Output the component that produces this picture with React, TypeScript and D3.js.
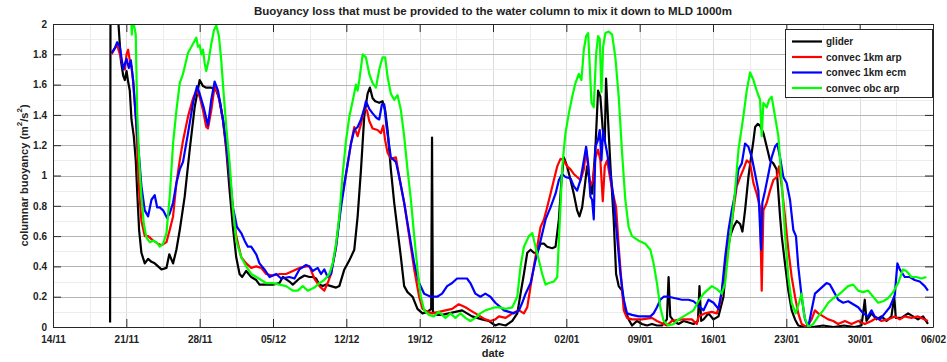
import React, { useEffect, useRef } from 'react';
import * as d3 from 'd3';

// days counted from 14/11, values in m^2/s^2
type Pt = [number, number];

const xTickLabels = ['14/11', '21/11', '28/11', '05/12', '12/12', '19/12', '26/12', '02/01', '09/01', '16/01', '23/01', '30/01', '06/02'];
const yTickValues = [0, 0.2, 0.4, 0.6, 0.8, 1, 1.2, 1.4, 1.6, 1.8, 2];
const legendNames = ['glider', 'convec 1km arp', 'convec 1km ecm', 'convec obc arp'];

const glider: Pt[] = [
  [5.45, 0.03], [5.5, 2.8], [6.1, 2.4], [6.25, 2.0], [6.48, 1.76], [6.7, 1.66], [6.86, 1.63], [7.02, 1.69], [7.17, 1.62], [7.33, 1.56],
  [7.49, 1.37], [7.71, 1.26], [7.9, 1.1], [8.06, 0.86], [8.22, 0.64], [8.44, 0.49], [8.76, 0.42], [9.08, 0.45], [9.4, 0.43], [9.71, 0.42],
  [10.03, 0.4], [10.35, 0.38], [10.83, 0.39], [11.1, 0.48], [11.46, 0.42], [11.78, 0.51], [12.1, 0.64], [12.57, 0.86], [13.05, 1.17], [13.52, 1.45],
  [14.0, 1.63], [14.32, 1.59], [14.63, 1.58], [15.11, 1.58], [15.59, 1.56], [15.9, 1.5], [16.22, 1.37], [16.54, 1.17], [16.86, 0.9], [17.17, 0.66],
  [17.49, 0.46], [17.81, 0.35], [18.06, 0.33], [18.44, 0.37], [18.92, 0.33], [19.4, 0.31], [19.71, 0.28], [20.35, 0.28], [20.98, 0.28], [21.62, 0.29],
  [21.94, 0.33], [22.57, 0.3], [22.89, 0.28], [23.52, 0.32], [24.0, 0.34], [24.48, 0.33], [24.79, 0.33], [25.11, 0.32], [25.43, 0.28], [25.75, 0.27],
  [26.06, 0.28], [26.54, 0.27], [27.02, 0.26], [27.33, 0.27], [27.81, 0.38], [28.29, 0.44], [28.76, 0.51], [29.08, 0.73], [29.4, 1.04], [29.71, 1.39],
  [30.03, 1.54], [30.25, 1.58], [30.51, 1.51], [30.76, 1.49], [31.14, 1.48], [31.46, 1.49], [31.71, 1.43], [31.94, 1.3], [32.25, 1.04], [32.57, 0.82],
  [32.89, 0.64], [33.21, 0.46], [33.52, 0.27], [33.84, 0.23], [34.32, 0.2], [34.79, 0.12], [35.27, 0.09], [35.75, 0.1], [36.1, 0.12], [36.18, 1.25],
  [36.26, 0.1], [36.67, 0.08], [37.14, 0.08], [37.78, 0.09], [38.41, 0.1], [39.05, 0.11], [39.52, 0.09], [40.0, 0.07], [40.48, 0.06], [40.95, 0.05],
  [41.59, 0.04], [42.22, 0.01], [42.57, 0.02], [43.21, 0.01], [43.84, 0.04], [44.32, 0.09], [44.63, 0.22], [44.95, 0.35], [45.27, 0.49], [45.59, 0.51],
  [45.9, 0.49], [46.22, 0.49], [46.54, 0.55], [46.86, 0.55], [47.17, 0.53], [47.65, 0.52], [47.97, 0.53], [48.29, 0.71], [48.54, 0.97], [48.76, 1.12],
  [49.08, 1.06], [49.4, 0.97], [49.71, 0.88], [50.03, 0.77], [50.25, 0.73], [50.51, 0.79], [50.76, 0.93], [50.98, 1.06], [51.21, 0.97], [51.46, 0.88],
  [51.78, 1.19], [52.03, 1.56], [52.25, 1.52], [52.48, 1.3], [52.67, 1.23], [52.79, 1.64], [52.98, 1.37], [53.21, 1.06], [53.52, 0.71], [53.75, 0.35],
  [54.0, 0.27], [54.32, 0.24], [54.63, 0.11], [54.95, 0.05], [55.27, 0.01], [55.75, 0.04], [56.22, 0.02], [56.7, 0.01], [57.17, 0.02], [57.65, 0.01],
  [58.13, 0.01], [58.6, 0.05], [58.76, 0.33], [58.92, 0.07], [59.24, 0.04], [59.71, 0.02], [60.19, 0.04], [60.67, 0.03], [61.14, 0.02], [61.56, 0.04],
  [61.71, 0.27], [61.87, 0.04], [62.1, 0.05], [62.57, 0.09], [63.05, 0.05], [63.52, 0.07], [64.0, 0.2], [64.32, 0.46], [64.63, 0.6], [64.95, 0.66],
  [65.27, 0.7], [65.59, 0.68], [65.81, 0.63], [66.06, 0.77], [66.38, 0.99], [66.63, 1.12], [66.86, 1.23], [67.02, 1.32], [67.27, 1.34], [67.49, 1.33],
  [67.81, 1.28], [68.13, 1.19], [68.44, 1.1], [68.76, 1.08], [69.08, 1.04], [69.4, 0.73], [69.56, 0.6], [69.87, 0.42], [70.19, 0.24], [70.51, 0.11],
  [70.83, 0.05], [71.14, 0.01], [71.78, 0], [72.5, 0], [73.5, 0.01], [74.5, 0], [75.5, 0.01], [76.5, 0], [77.17, 0.01], [77.33, 0.09],
  [77.49, 0.18], [77.65, 0.04], [78.13, 0.09], [78.6, 0.05], [79.08, 0.07], [79.56, 0.04], [80.03, 0.07], [80.3, 0.2], [80.45, 0.06], [80.98, 0.06],
  [81.62, 0.09], [82.1, 0.07], [82.57, 0.05], [83.05, 0.07], [83.52, 0.02],
];

const arp1km: Pt[] = [
  [5.6, 1.8], [5.9, 1.84], [6.13, 1.86], [6.38, 1.8], [6.7, 1.72], [6.86, 1.7], [7.02, 1.8], [7.17, 1.83], [7.33, 1.76], [7.49, 1.72],
  [7.65, 1.62], [7.9, 1.39], [8.06, 1.15], [8.22, 0.9], [8.44, 0.7], [8.76, 0.6], [9.08, 0.6], [9.56, 0.57], [10.03, 0.55], [10.35, 0.54],
  [10.83, 0.56], [11.14, 0.64], [11.46, 0.73], [11.78, 0.95], [12.1, 1.1], [12.41, 1.23], [12.89, 1.39], [13.37, 1.51], [13.68, 1.56], [14.0, 1.52],
  [14.32, 1.43], [14.63, 1.32], [14.79, 1.31], [15.11, 1.43], [15.43, 1.59], [15.75, 1.54], [16.22, 1.37], [16.54, 1.19], [16.86, 0.99], [17.17, 0.77],
  [17.49, 0.6], [17.97, 0.46], [18.44, 0.42], [18.92, 0.39], [19.4, 0.4], [19.87, 0.39], [20.35, 0.35], [20.98, 0.34], [21.62, 0.35], [22.25, 0.35],
  [22.89, 0.37], [23.52, 0.39], [24.16, 0.4], [24.48, 0.4], [24.95, 0.32], [25.43, 0.27], [25.9, 0.24], [26.22, 0.29], [26.54, 0.35], [27.02, 0.53],
  [27.49, 0.82], [27.97, 1.01], [28.44, 1.21], [28.76, 1.32], [29.08, 1.26], [29.4, 1.34], [29.71, 1.44], [29.97, 1.43], [30.19, 1.36], [30.51, 1.31],
  [30.98, 1.3], [31.3, 1.28], [31.52, 1.33], [31.71, 1.23], [31.94, 1.15], [32.25, 1.11], [32.73, 1.12], [33.05, 0.99], [33.52, 0.82], [34.0, 0.6],
  [34.48, 0.38], [34.95, 0.2], [35.27, 0.12], [35.75, 0.1], [36.22, 0.09], [36.83, 0.1], [37.46, 0.11], [38.1, 0.12], [38.73, 0.15], [39.37, 0.13],
  [39.84, 0.11], [40.32, 0.09], [40.79, 0.07], [41.27, 0.05], [41.75, 0.04], [42.22, 0.05], [42.57, 0.07], [43.21, 0.06], [43.84, 0.09], [44.48, 0.11],
  [44.95, 0.09], [45.27, 0.13], [45.59, 0.27], [45.9, 0.4], [46.22, 0.53], [46.54, 0.66], [46.86, 0.71], [47.17, 0.79], [47.49, 0.88], [47.81, 0.97],
  [48.13, 1.06], [48.44, 1.11], [48.76, 1.1], [49.08, 1.06], [49.4, 1.04], [49.71, 1.01], [50.03, 0.99], [50.35, 0.97], [50.67, 1.04], [50.89, 1.17],
  [51.08, 1.06], [51.3, 0.93], [51.56, 0.97], [51.78, 1.12], [52.03, 1.17], [52.25, 1.1], [52.48, 0.83], [52.67, 1.06], [52.89, 1.1], [53.21, 0.97],
  [53.52, 0.86], [53.75, 0.79], [54.0, 0.53], [54.25, 0.31], [54.48, 0.11], [54.79, 0.06], [55.27, 0.05], [56.22, 0.05], [57.17, 0.06], [57.65, 0.04],
  [58.6, 0.01], [59.08, 0.04], [60.03, 0.05], [60.98, 0.05], [61.46, 0.02], [61.62, 0.07], [62.25, 0.09], [62.89, 0.1], [63.37, 0.09], [63.68, 0.16],
  [64.0, 0.31], [64.32, 0.51], [64.63, 0.6], [64.95, 0.77], [65.27, 0.93], [65.59, 0.99], [65.9, 1.04], [66.22, 1.1], [66.54, 1.08], [66.86, 0.95],
  [67.17, 0.88], [67.49, 0.79], [67.65, 0.24], [67.81, 0.77], [68.13, 0.82], [68.44, 0.9], [68.76, 0.97], [69.08, 0.99], [69.3, 1.06], [69.56, 0.93],
  [69.87, 0.73], [70.19, 0.51], [70.51, 0.33], [70.83, 0.2], [71.14, 0.09], [71.46, 0.02], [71.94, 0], [72.41, 0.05], [72.73, 0.11], [73.05, 0.09],
  [73.52, 0.07], [74.0, 0.05], [74.48, 0.04], [74.95, 0.02], [75.59, 0.04], [76.22, 0.02], [76.86, 0.04], [77.49, 0.02], [78.13, 0.04], [78.6, 0.06],
  [79.08, 0.04], [79.71, 0.05], [80.35, 0.07], [80.83, 0.05], [81.3, 0.07], [81.94, 0.06], [82.57, 0.07], [83.21, 0.05], [83.52, 0.04],
];

const ecm1km: Pt[] = [
  [5.59, 1.81], [5.9, 1.84], [6.13, 1.88], [6.38, 1.85], [6.7, 1.7], [7.02, 1.77], [7.24, 1.71], [7.43, 1.76], [7.65, 1.63], [7.9, 1.39],
  [8.19, 1.15], [8.44, 0.93], [8.76, 0.77], [9.08, 0.73], [9.4, 0.84], [9.71, 0.87], [9.94, 0.79], [10.19, 0.79], [10.51, 0.77], [10.89, 0.72],
  [11.14, 0.75], [11.46, 0.82], [11.78, 0.95], [12.1, 1.04], [12.41, 1.09], [12.89, 1.28], [13.37, 1.48], [13.75, 1.59], [14.0, 1.54], [14.38, 1.45],
  [14.79, 1.33], [15.11, 1.5], [15.43, 1.62], [15.75, 1.56], [16.22, 1.37], [16.54, 1.21], [16.86, 1.01], [17.17, 0.79], [17.56, 0.66], [17.97, 0.62],
  [18.29, 0.57], [18.6, 0.53], [18.92, 0.53], [19.4, 0.48], [19.71, 0.42], [20.19, 0.38], [20.67, 0.33], [21.3, 0.35], [21.78, 0.32], [22.57, 0.33],
  [23.05, 0.32], [23.52, 0.38], [24.16, 0.41], [24.48, 0.4], [24.79, 0.37], [25.27, 0.39], [25.59, 0.35], [25.9, 0.38], [26.22, 0.33], [26.54, 0.35],
  [27.02, 0.53], [27.49, 0.79], [27.97, 1.01], [28.44, 1.21], [28.76, 1.3], [29.08, 1.32], [29.4, 1.37], [29.71, 1.44], [29.87, 1.49], [30.19, 1.44],
  [30.51, 1.41], [30.89, 1.38], [31.14, 1.37], [31.4, 1.47], [31.62, 1.47], [31.84, 1.32], [32.25, 1.12], [32.73, 1.09], [33.05, 0.99], [33.52, 0.82],
  [34.0, 0.62], [34.48, 0.42], [34.95, 0.29], [35.43, 0.22], [36.06, 0.2], [36.67, 0.2], [37.14, 0.22], [37.62, 0.27], [38.1, 0.29], [38.57, 0.32],
  [39.05, 0.32], [39.52, 0.32], [39.84, 0.29], [40.32, 0.22], [40.79, 0.2], [41.27, 0.22], [41.75, 0.2], [42.22, 0.16], [42.57, 0.14], [43.05, 0.11],
  [43.52, 0.1], [43.99, 0.09], [44.48, 0.11], [44.79, 0.16], [45.11, 0.22], [45.59, 0.29], [46.06, 0.44], [46.54, 0.57], [47.02, 0.71], [47.49, 0.79],
  [47.97, 0.88], [48.29, 0.97], [48.6, 1.01], [48.92, 0.99], [49.4, 0.98], [49.71, 0.93], [50.03, 0.9], [50.35, 0.97], [50.67, 1.1], [50.89, 1.19],
  [51.08, 1.08], [51.3, 0.86], [51.46, 0.84], [51.62, 0.71], [51.78, 1.19], [52.0, 1.23], [52.19, 1.3], [52.35, 1.1], [52.51, 1.3], [52.67, 1.23],
  [52.89, 1.15], [53.21, 1.01], [53.52, 0.84], [53.84, 0.6], [54.16, 0.35], [54.48, 0.18], [54.79, 0.09], [55.27, 0.08], [55.9, 0.07], [56.54, 0.07],
  [57.02, 0.07], [57.33, 0.09], [57.65, 0.13], [57.97, 0.18], [58.29, 0.2], [58.76, 0.2], [59.4, 0.19], [60.03, 0.18], [60.67, 0.18], [61.14, 0.17],
  [61.62, 0.14], [62.1, 0.11], [62.57, 0.18], [63.05, 0.16], [63.52, 0.12], [63.84, 0.24], [64.16, 0.46], [64.48, 0.64], [64.79, 0.77], [65.11, 0.88],
  [65.43, 1.04], [65.75, 1.08], [66.06, 1.21], [66.38, 1.19], [66.7, 1.12], [67.02, 1.01], [67.33, 0.9], [67.59, 0.51], [67.71, 0.82], [67.97, 0.9],
  [68.29, 1.01], [68.6, 1.12], [68.92, 1.19], [69.14, 1.21], [69.4, 1.12], [69.71, 0.99], [70.03, 0.95], [70.35, 0.84], [70.67, 0.64], [70.92, 0.6],
  [71.14, 0.4], [71.46, 0.2], [71.78, 0.05], [72.1, 0], [72.41, 0.11], [72.73, 0.22], [73.05, 0.24], [73.52, 0.27], [73.84, 0.29], [74.16, 0.28],
  [74.48, 0.24], [74.95, 0.18], [75.43, 0.16], [75.9, 0.17], [76.38, 0.15], [76.86, 0.13], [77.33, 0.09], [77.81, 0.07], [78.13, 0.11], [78.44, 0.07],
  [78.92, 0.05], [79.4, 0.09], [79.87, 0.13], [80.35, 0.21], [80.6, 0.42], [80.83, 0.38], [81.3, 0.33], [81.78, 0.33], [82.25, 0.31], [82.73, 0.3],
  [83.21, 0.27], [83.52, 0.24],
];

const obcArp: Pt[] = [
  [5.6, 2.6], [7.3, 2.3], [7.45, 2.1], [7.52, 1.93], [7.6, 2.05], [7.71, 2.0], [7.9, 1.93], [8.03, 1.43], [8.22, 1.1], [8.44, 0.86],
  [8.67, 0.68], [8.92, 0.59], [9.24, 0.56], [9.56, 0.57], [9.87, 0.56], [10.19, 0.53], [10.51, 0.55], [10.83, 0.62], [11.14, 0.86], [11.46, 1.21],
  [11.78, 1.43], [12.1, 1.61], [12.41, 1.67], [12.89, 1.81], [13.37, 1.87], [13.68, 1.91], [13.84, 1.85], [14.0, 1.86], [14.16, 1.8], [14.32, 1.83],
  [14.48, 1.74], [14.63, 1.69], [14.86, 1.76], [15.11, 1.87], [15.37, 1.96], [15.59, 1.99], [15.84, 1.92], [16.06, 1.76], [16.29, 1.54], [16.54, 1.32],
  [16.86, 1.08], [17.17, 0.79], [17.49, 0.57], [17.97, 0.46], [18.44, 0.4], [18.92, 0.35], [19.4, 0.33], [19.87, 0.31], [20.35, 0.29], [20.98, 0.29],
  [21.62, 0.28], [22.25, 0.27], [22.89, 0.24], [23.37, 0.24], [23.84, 0.27], [24.32, 0.24], [24.95, 0.26], [25.43, 0.29], [25.9, 0.31], [26.38, 0.35],
  [26.7, 0.42], [27.02, 0.55], [27.33, 0.73], [27.65, 1.01], [27.97, 1.23], [28.29, 1.39], [28.6, 1.49], [28.92, 1.6], [29.08, 1.56], [29.24, 1.63],
  [29.56, 1.8], [29.87, 1.78], [30.19, 1.67], [30.51, 1.61], [30.83, 1.58], [31.14, 1.7], [31.46, 1.78], [31.71, 1.78], [31.94, 1.65], [32.25, 1.54],
  [32.57, 1.5], [32.89, 1.53], [33.21, 1.43], [33.52, 1.26], [33.84, 1.04], [34.16, 0.84], [34.48, 0.6], [34.79, 0.38], [35.11, 0.2], [35.43, 0.11],
  [35.9, 0.08], [36.35, 0.07], [36.83, 0.1], [37.46, 0.06], [37.94, 0.09], [38.41, 0.06], [38.89, 0.09], [39.37, 0.06], [39.84, 0.04], [40.32, 0.06],
  [40.79, 0.09], [41.27, 0.11], [41.75, 0.12], [42.22, 0.13], [42.57, 0.13], [43.21, 0.12], [43.84, 0.13], [44.32, 0.2], [44.63, 0.4], [44.95, 0.53],
  [45.43, 0.6], [45.75, 0.62], [46.06, 0.53], [46.38, 0.44], [46.7, 0.35], [47.02, 0.28], [47.33, 0.29], [47.81, 0.3], [48.13, 0.33], [48.35, 0.66],
  [48.6, 1.04], [48.76, 1.17], [48.92, 1.28], [49.24, 1.41], [49.56, 1.52], [49.87, 1.61], [50.19, 1.67], [50.44, 1.63], [50.67, 1.83], [50.89, 1.92],
  [51.08, 1.94], [51.21, 1.76], [51.4, 1.48], [51.62, 1.45], [51.84, 1.8], [52.03, 1.92], [52.19, 1.9], [52.35, 1.55], [52.51, 1.85], [52.73, 1.94],
  [53.05, 1.95], [53.37, 1.93], [53.68, 1.78], [54.0, 1.52], [54.32, 1.15], [54.63, 0.84], [54.95, 0.66], [55.27, 0.6], [55.9, 0.57], [56.54, 0.55],
  [57.02, 0.51], [57.33, 0.42], [57.65, 0.29], [57.97, 0.13], [58.29, 0.04], [58.76, 0.01], [59.24, 0.02], [59.71, 0.05], [60.19, 0.07], [60.67, 0.09],
  [61.14, 0.11], [61.62, 0.17], [62.1, 0.22], [62.57, 0.25], [62.89, 0.27], [63.37, 0.25], [63.84, 0.22], [64.16, 0.29], [64.48, 0.51], [64.79, 0.68],
  [65.11, 0.9], [65.43, 1.17], [65.9, 1.39], [66.22, 1.56], [66.54, 1.68], [66.86, 1.63], [67.17, 1.56], [67.49, 1.5], [67.65, 1.26], [67.81, 1.48],
  [68.13, 1.45], [68.35, 1.5], [68.6, 1.52], [68.92, 1.39], [69.24, 1.26], [69.56, 0.95], [69.87, 0.62], [70.19, 0.33], [70.51, 0.16], [70.89, 0.09],
  [71.21, 0.16], [71.46, 0.22], [71.71, 0.07], [72.1, 0], [72.57, 0.02], [73.05, 0.07], [73.52, 0.11], [74.0, 0.16], [74.48, 0.19], [74.95, 0.21],
  [75.43, 0.24], [75.9, 0.27], [76.38, 0.28], [76.86, 0.24], [77.33, 0.23], [77.81, 0.24], [78.29, 0.2], [78.76, 0.16], [79.24, 0.17], [79.71, 0.19],
  [80.19, 0.23], [80.67, 0.29], [81.14, 0.38], [81.46, 0.37], [81.94, 0.33], [82.41, 0.33], [82.89, 0.32], [83.37, 0.33],
];

const seriesData = [glider, arp1km, ecm1km, obcArp];
const seriesColors = ['#000000', '#ff0000', '#0000ff', '#00ff00'];

const FONT = '"Liberation Sans", Arial, Helvetica, sans-serif';

const App: React.FC = () => {
  const ref = useRef<SVGSVGElement>(null);

  useEffect(() => {
    const svg = d3.select(ref.current);
    svg.selectAll('*').remove();

    const width = 947;
    const height = 362;
    const margin = { top: 24, right: 14, bottom: 35, left: 53 };
    const left = margin.left;
    const right = width - margin.right;
    const top = margin.top;
    const bottom = height - margin.bottom;

    const x = d3.scaleLinear().domain([0, 84]).range([left, right]);
    const y = d3.scaleLinear().domain([0, 2]).range([bottom, top]);

    const xMajor = xTickLabels.map((_, i) => i * 7);
    const xMinor = d3.range(3.5, 84, 7);
    const yMinor = d3.range(0.1, 2, 0.2);

    svg.append('rect').attr('width', width).attr('height', height).attr('fill', '#fff');

    // grid
    const grid = svg.append('g').attr('shape-rendering', 'crispEdges');
    grid.selectAll('.xminor').data(xMinor).enter().append('line')
      .attr('x1', d => Math.round(x(d)) + 0.5).attr('x2', d => Math.round(x(d)) + 0.5)
      .attr('y1', top).attr('y2', bottom).attr('stroke', '#ececec');
    grid.selectAll('.xmajor').data(xMajor.slice(1, -1)).enter().append('line')
      .attr('x1', d => Math.round(x(d)) + 0.5).attr('x2', d => Math.round(x(d)) + 0.5)
      .attr('y1', top).attr('y2', bottom).attr('stroke', '#dcdcdc');
    grid.selectAll('.yminor').data(yMinor).enter().append('line')
      .attr('x1', left).attr('x2', right)
      .attr('y1', d => Math.round(y(d)) + 0.5).attr('y2', d => Math.round(y(d)) + 0.5)
      .attr('stroke', '#ececec');
    grid.selectAll('.ymajor').data(yTickValues.slice(1, -1)).enter().append('line')
      .attr('x1', left).attr('x2', right)
      .attr('y1', d => Math.round(y(d)) + 0.5).attr('y2', d => Math.round(y(d)) + 0.5)
      .attr('stroke', '#b4b4b4');

    // series
    svg.append('clipPath').attr('id', 'plot-clip')
      .append('rect').attr('x', left).attr('y', top).attr('width', right - left).attr('height', bottom - top);

    const line = d3.line<Pt>().x(d => x(d[0])).y(d => y(d[1]));
    const lines = svg.append('g').attr('clip-path', 'url(#plot-clip)');
    seriesData.forEach((data, i) => {
      lines.append('path')
        .datum(data)
        .attr('fill', 'none')
        .attr('stroke', seriesColors[i])
        .attr('stroke-width', 2.2)
        .attr('stroke-linejoin', 'round')
        .attr('d', line);
    });

    // axes box and inward ticks
    const axisColor = '#262626';
    const bottomAxis = svg.append('g')
      .attr('transform', `translate(0,${bottom})`)
      .call(d3.axisBottom(x).tickValues(xMajor).tickFormat((_, i) => xTickLabels[i]).tickSizeInner(-8).tickSizeOuter(0).tickPadding(9));
    const topAxis = svg.append('g')
      .attr('transform', `translate(0,${top})`)
      .call(d3.axisTop(x).tickValues(xMajor).tickFormat(() => '').tickSizeInner(-8).tickSizeOuter(0));
    const leftAxis = svg.append('g')
      .attr('transform', `translate(${left},0)`)
      .call(d3.axisLeft(y).tickValues(yTickValues).tickFormat(d => `${+(+d).toFixed(1)}`).tickSizeInner(-8).tickSizeOuter(0).tickPadding(6));
    const rightAxis = svg.append('g')
      .attr('transform', `translate(${right},0)`)
      .call(d3.axisRight(y).tickValues(yTickValues).tickFormat(() => '').tickSizeInner(-8).tickSizeOuter(0));

    [bottomAxis, topAxis, leftAxis, rightAxis].forEach(a => {
      a.attr('font-family', FONT).attr('font-size', 10).attr('font-weight', 'bold');
      a.selectAll('path').attr('stroke', axisColor);
      a.selectAll('line').attr('stroke', axisColor);
      a.selectAll('text').attr('fill', '#222');
    });

    // title and labels
    svg.append('text')
      .attr('x', (left + right) / 2).attr('y', 15)
      .attr('text-anchor', 'middle')
      .attr('font-family', FONT).attr('font-size', 11.5).attr('font-weight', 'bold').attr('fill', '#222')
      .text('Buoyancy loss that must be provided to the water column to mix it down to MLD 1000m');

    svg.append('text')
      .attr('x', (left + right) / 2).attr('y', 357)
      .attr('text-anchor', 'middle')
      .attr('font-family', FONT).attr('font-size', 11).attr('font-weight', 'bold').attr('fill', '#222')
      .text('date');

    const yl = svg.append('text')
      .attr('transform', `translate(28,${(top + bottom) / 2}) rotate(-90)`)
      .attr('text-anchor', 'middle')
      .attr('font-family', FONT).attr('font-size', 11).attr('font-weight', 'bold').attr('fill', '#222');
    yl.append('tspan').text('columnar buoyancy (m');
    yl.append('tspan').attr('dy', -6).attr('font-size', 8).text('2');
    yl.append('tspan').attr('dy', 6).text('/s');
    yl.append('tspan').attr('dy', -6).attr('font-size', 8).text('2');
    yl.append('tspan').attr('dy', 6).text(')');

    // legend
    const legend = svg.append('g').attr('transform', 'translate(785,29)');
    legend.append('rect')
      .attr('x', 0.5).attr('y', 0.5).attr('width', 147).attr('height', 68)
      .attr('fill', '#fff').attr('stroke', axisColor).attr('stroke-width', 1);
    legendNames.forEach((name, i) => {
      const ly = 12.5 + i * 15.5;
      legend.append('line')
        .attr('x1', 7).attr('x2', 37).attr('y1', ly).attr('y2', ly)
        .attr('stroke', seriesColors[i]).attr('stroke-width', 2.2);
      legend.append('text')
        .attr('x', 41).attr('y', ly + 3.5)
        .attr('font-family', FONT).attr('font-size', 10).attr('font-weight', 'bold').attr('fill', '#222')
        .text(name);
    });
  }, []);

  return (
    <svg
      ref={ref}
      width={947}
      height={362}
      style={{ position: 'absolute', left: 0, top: 0, display: 'block' }}
    />
  );
};

export default App;
